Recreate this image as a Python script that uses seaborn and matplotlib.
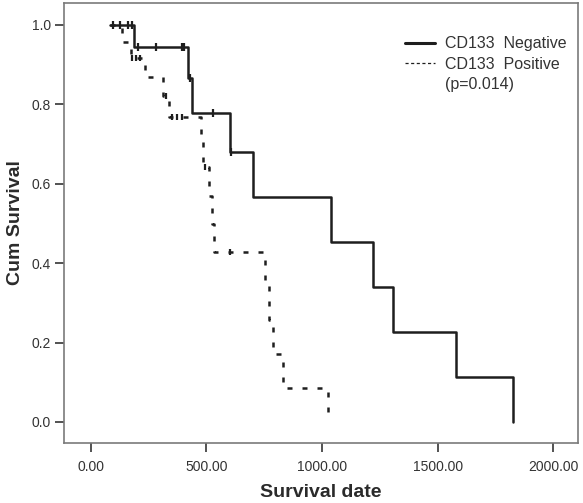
import numpy as np
import pandas as pd
import matplotlib
matplotlib.use('Agg')
import matplotlib.pyplot as plt
from matplotlib.lines import Line2D
import seaborn as sns

# Kaplan-Meier steps (days, cumulative survival)
neg_days = [84, 188, 422, 438, 602, 703, 1039, 1221, 1308, 1580, 1826]
neg_surv = [1.0, 0.944, 0.865, 0.778, 0.680, 0.566, 0.453, 0.340, 0.226, 0.113, 0.0]
neg_cens_days = [95, 127, 163, 177, 206, 281, 393, 405, 430, 529, 605]
neg_cens_surv = [1.0, 1.0, 1.0, 1.0, 0.944, 0.944, 0.944, 0.944, 0.865, 0.778, 0.680]

pos_days = [84, 134, 175, 233, 313, 339, 477, 486, 512, 523, 533, 754, 771, 788, 831, 1025]
pos_surv = [1.0, 0.958, 0.917, 0.868, 0.820, 0.769, 0.705, 0.641, 0.570, 0.499, 0.427,
            0.342, 0.256, 0.171, 0.085, 0.0]
pos_cens_days = [180, 195, 215, 326, 352, 373, 395, 495, 602]
pos_cens_surv = [0.917, 0.917, 0.917, 0.820, 0.769, 0.769, 0.769, 0.641, 0.427]

x_ticks = [0, 500, 1000, 1500, 2000]
y_ticks = [0.0, 0.2, 0.4, 0.6, 0.8, 1.0]
legend_labels = ['CD133  Negative', 'CD133  Positive', '(p=0.014)']

sns.set_style('white')
plt.rcParams['font.family'] = ['Liberation Sans', 'DejaVu Sans']

line_df = pd.concat([
    pd.DataFrame({'days': neg_days, 'surv': neg_surv, 'group': 'Negative'}),
    pd.DataFrame({'days': pos_days, 'surv': pos_surv, 'group': 'Positive'}),
], ignore_index=True)

ink = '#1e1e1e'
fig = plt.figure(figsize=(5.83, 5.03), dpi=100)
ax = fig.add_axes([0.1098, 0.1193, 0.8816, 0.8747])

sns.lineplot(data=line_df, x='days', y='surv', style='group',
             dashes={'Negative': '', 'Positive': (2, 4)},
             color=ink, linewidth=1.8, drawstyle='steps-post',
             estimator=None, sort=False, legend=False, ax=ax)

# censored cases
sns.scatterplot(x=neg_cens_days, y=neg_cens_surv, marker='|', s=36,
                color=ink, linewidth=1.6, ax=ax)
sns.scatterplot(x=pos_cens_days, y=pos_cens_surv, marker='|', s=25,
                color=ink, linewidth=1.6, ax=ax)

ax.set_xlim(-115, 2107)
ax.set_ylim(-0.053, 1.055)
ax.set_xticks(x_ticks)
ax.set_xticklabels([f'{v:.2f}' for v in x_ticks])
ax.set_yticks(y_ticks)
ax.set_yticklabels([f'{v:.1f}' for v in y_ticks])
ax.tick_params(bottom=True, left=True, direction='out', length=6.5, width=1.3,
               color='#444444', labelcolor='#333333', labelsize=10, pad=3)
ax.tick_params(axis='x', pad=6)
for sp in ax.spines.values():
    sp.set_color('#7a7a7a')
    sp.set_linewidth(1.2)

ax.set_xlabel('Survival date', fontsize=14, fontweight='bold', color='#2a2a2a', labelpad=7)
ax.set_ylabel('Cum Survival', fontsize=14, fontweight='bold', color='#2a2a2a', labelpad=5)

handles = [Line2D([], [], color=ink, linewidth=2.2),
           Line2D([], [], color=ink, linewidth=0.9, linestyle=(0, (2.5, 2))),
           Line2D([], [], color='none')]
ax.legend(handles, legend_labels, loc='upper left', bbox_to_anchor=(0.663, 0.924),
          frameon=False, fontsize=11.5, handlelength=1.9, handletextpad=0.6,
          labelspacing=0.34, borderpad=0, borderaxespad=0, labelcolor='#333333')

fig.savefig('out.png', dpi=100)
